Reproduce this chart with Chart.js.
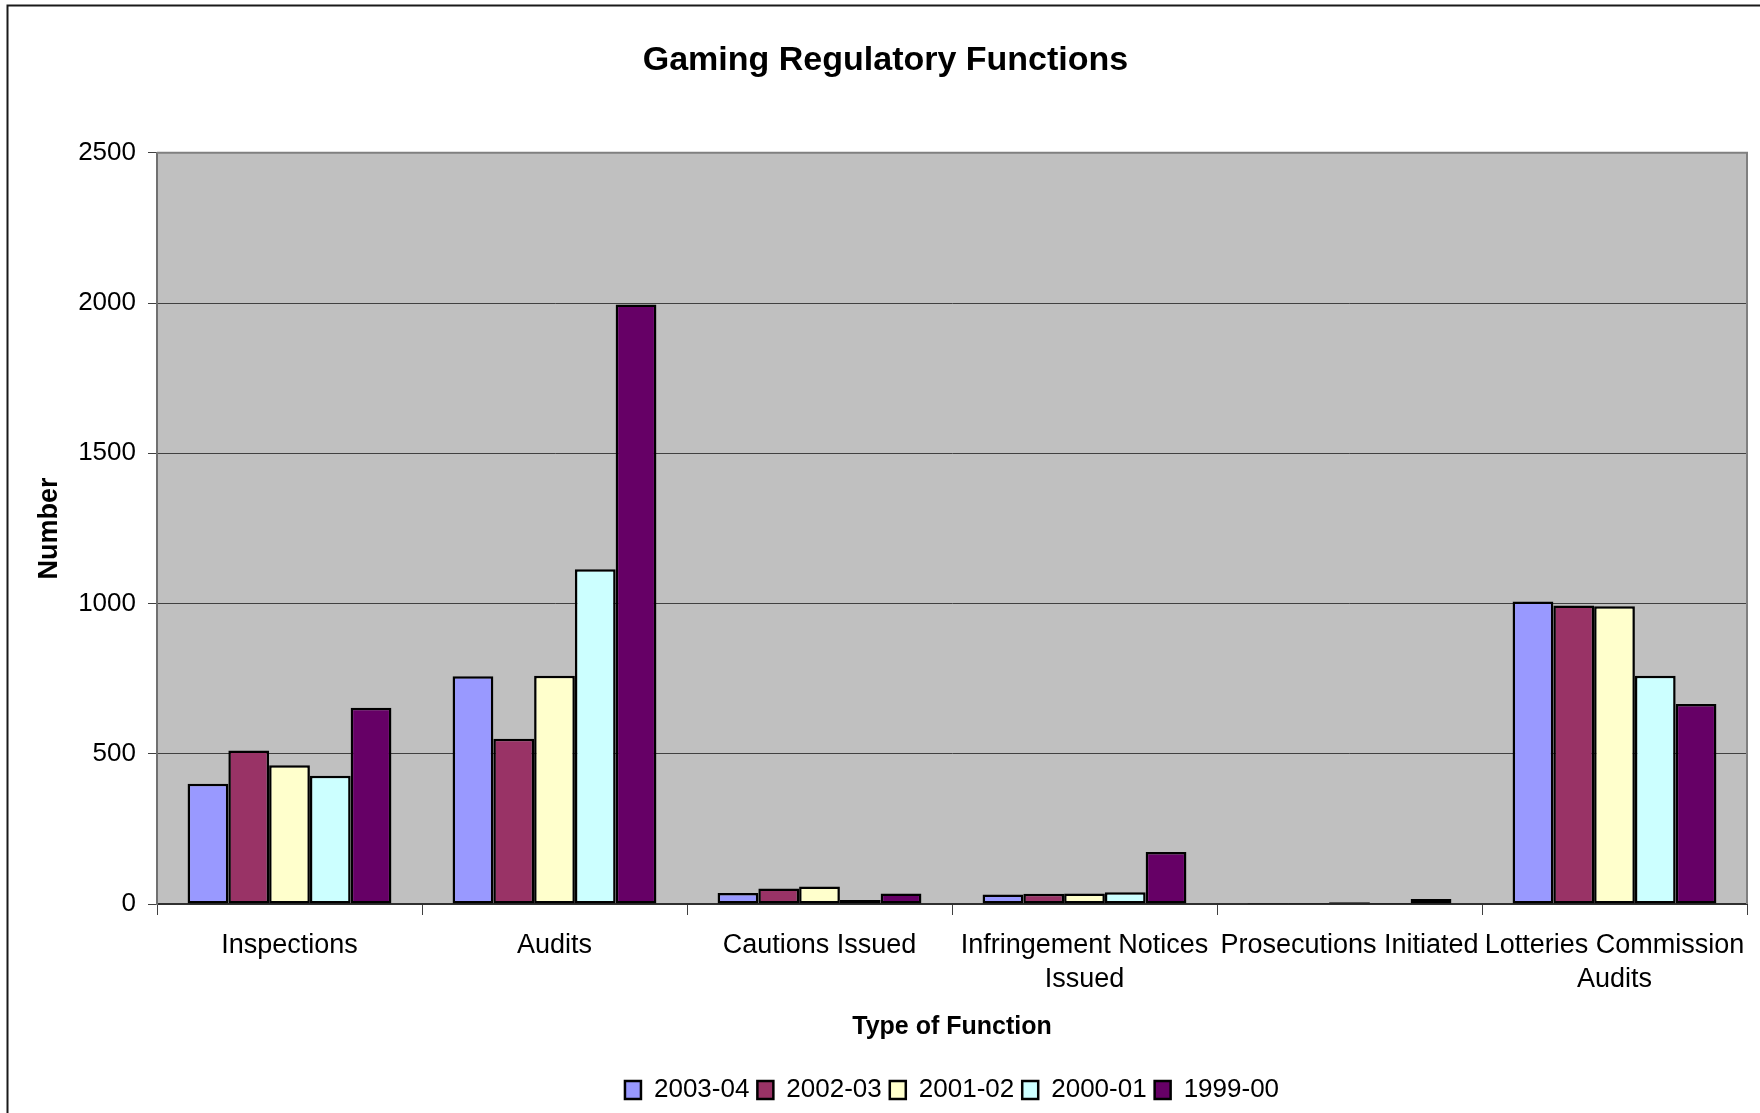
<!DOCTYPE html>
<html>
<head>
<meta charset="utf-8">
<title>Gaming Regulatory Functions</title>
<script src="https://cdn.jsdelivr.net/npm/chart.js@4/dist/chart.umd.min.js"></script>
<style>
  html, body { margin: 0; padding: 0; background: #ffffff; }
  canvas { display: block; }
</style>
</head>
<body>
<canvas id="chart" width="1760" height="1113"></canvas>
<script>
// Categories of regulatory activity and yearly counts
const categories = [
  'Inspections',
  'Audits',
  'Cautions Issued',
  ['Infringement Notices', 'Issued'],
  'Prosecutions Initiated',
  ['Lotteries Commission', 'Audits']
];
const seriesNames = ['2003-04', '2002-03', '2001-02', '2000-01', '1999-00'];
const values2003_04 = [400, 758, 37, 32, 3, 1007];
const values2002_03 = [511, 550, 52, 34, 3, 993];
const values2001_02 = [462, 760, 58, 35, 6, 991];
const values2000_01 = [427, 1114, 13, 39, 3, 760];
const values1999_00 = [653, 1995, 35, 173, 17, 666];
const yTicks = [0, 500, 1000, 1500, 2000, 2500];

const seriesValues = [values2003_04, values2002_03, values2001_02, values2000_01, values1999_00];
const seriesColors = ['#9999FF', '#993366', '#FFFFCC', '#CCFFFF', '#660066'];

const FONT = "'Liberation Sans', Arial, Helvetica, sans-serif";

// White page with a frame, grey plot background
const backdrop = {
  id: 'backdrop',
  beforeDraw(chart) {
    const { ctx, chartArea: a } = chart;
    ctx.save();
    ctx.fillStyle = '#ffffff';
    ctx.fillRect(0, 0, chart.width, chart.height);
    ctx.strokeStyle = '#1a1a1a';
    ctx.lineWidth = 2;
    ctx.beginPath();
    ctx.moveTo(7.5, chart.height + 2);
    ctx.lineTo(7.5, 5.5);
    ctx.lineTo(chart.width + 2, 5.5);
    ctx.stroke();
    ctx.fillStyle = '#C0C0C0';
    ctx.fillRect(a.left, a.top, a.right - a.left, a.bottom - a.top);
    ctx.restore();
  },
  afterDatasetsDraw(chart) {
    const { ctx, chartArea: a } = chart;
    ctx.save();
    ctx.strokeStyle = '#808080';
    ctx.lineWidth = 2;
    ctx.beginPath();
    ctx.moveTo(a.left, a.top);
    ctx.lineTo(a.right, a.top);
    ctx.lineTo(a.right, a.bottom);
    ctx.stroke();
    ctx.restore();
  }
};

new Chart(document.getElementById('chart'), {
  type: 'bar',
  data: {
    labels: categories,
    datasets: seriesNames.map((name, i) => ({
      label: name,
      data: seriesValues[i],
      backgroundColor: seriesColors[i],
      borderColor: '#000000',
      borderWidth: 2.5,
      borderSkipped: false,
      categoryPercentage: 5 / 6.5,
      barPercentage: 1
    }))
  },
  options: {
    responsive: false,
    devicePixelRatio: 1,
    animation: false,
    layout: { padding: { left: 24, right: 13, top: 0, bottom: 0 } },
    plugins: {
      tooltip: { enabled: false },
      title: {
        display: true,
        text: 'Gaming Regulatory Functions',
        color: '#000000',
        font: { family: FONT, size: 34, weight: 'bold', lineHeight: 1.2 },
        padding: { top: 40, bottom: 72 }
      },
      legend: {
        position: 'bottom',
        fullSize: false,
        labels: {
          color: '#000000',
          font: { family: FONT, size: 26 },
          boxWidth: 16,
          boxHeight: 18,
          padding: 8
        }
      }
    },
    scales: {
      x: {
        grid: {
          display: true,
          drawOnChartArea: false,
          drawTicks: true,
          tickLength: 11,
          color: '#404040',
          tickColor: '#404040',
          offset: true
        },
        border: { display: true, color: '#303030', width: 2 },
        ticks: {
          color: '#000000',
          font: { family: FONT, size: 27, lineHeight: 1.26 },
          padding: 14,
          maxRotation: 0,
          minRotation: 0,
          autoSkip: false
        },
        title: {
          display: true,
          text: 'Type of Function',
          color: '#000000',
          font: { family: FONT, size: 25, weight: 'bold', lineHeight: 1.2 },
          padding: { top: 0, bottom: 27 }
        },
        afterFit(scale) { scale.height = 165; }
      },
      y: {
        min: 0,
        max: 2500,
        afterBuildTicks(scale) { scale.ticks = yTicks.map(v => ({ value: v })); },
        grid: {
          color: '#404040',
          lineWidth: 1,
          tickLength: 9,
          tickColor: '#404040'
        },
        border: { display: true, color: '#707070', width: 2 },
        ticks: {
          color: '#000000',
          font: { family: FONT, size: 26 },
          padding: 12,
          callback: v => String(v)
        },
        title: {
          display: true,
          text: 'Number',
          color: '#000000',
          font: { family: FONT, size: 27, weight: 'bold', lineHeight: 1.2 },
          padding: { top: 9, bottom: 0 }
        },
        afterFit(scale) { scale.width = 133; }
      }
    }
  },
  plugins: [backdrop]
});
</script>
</body>
</html>
